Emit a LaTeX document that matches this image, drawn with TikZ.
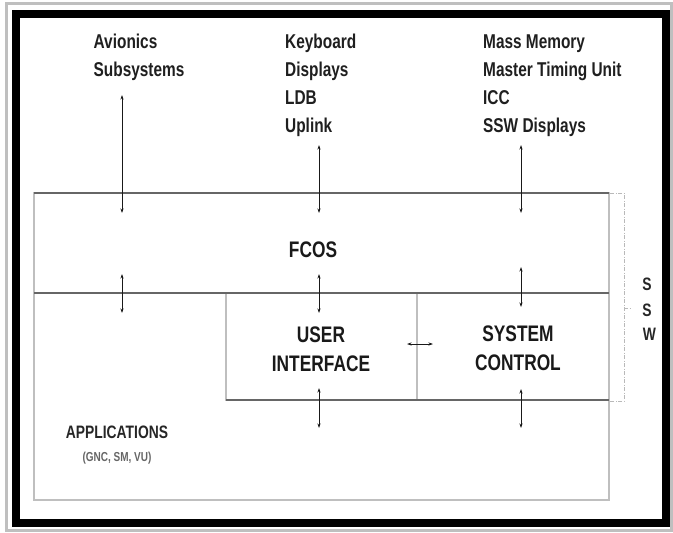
\documentclass[tikz,border=0pt]{standalone}
\usepackage{fontspec}
\setmainfont{Liberation Sans}[FakeStretch=0.77]
\usetikzlibrary{arrows.meta}
\begin{document}
\begin{tikzpicture}[x=1pt,y=-1pt,
  toplbl/.style={font=\bfseries\fontsize{20}{24}\selectfont, text=black!88, inner sep=0pt, anchor=base west},
  boxlbl/.style={font=\bfseries\fontsize{22.5}{29}\selectfont, align=center, inner sep=0pt, text=black!90},
  ssw/.style={font=\bfseries\fontsize{18}{20}\selectfont, inner sep=0pt, text=black!85},
  area/.style={draw=gray!50, line width=1.2pt, inner sep=0pt, outer sep=0pt},
  darkline/.style={draw=black!60, line width=2pt},
  tip/.tip={Stealth[length=4.5pt,width=3pt]},
  arr/.style={tip-tip, line width=0.8pt, black!90},
  bracket/.style={draw=gray!55, line width=0.8pt, dash pattern=on 4pt off 1.5pt on 1pt off 1.5pt}
]
\useasboundingbox (0,0) rectangle (673,533);
% frames
\draw[gray!50, line width=3pt] (6,3) rectangle (671,530);
\draw[black, line width=8pt] (16,14) rectangle (666,523);

% areas
\node[area, minimum width=575pt, minimum height=307pt] (apps) at (321.5,346.5) {};
\node[area, minimum width=575pt, minimum height=100pt] (fcos) at (321.5,243) {};
\node[area, minimum width=191pt, minimum height=107pt] (ui) at (321.5,346.5) {};
\node[area, minimum width=192pt, minimum height=107pt] (sc) at (513,346.5) {};
\draw[darkline] (fcos.north west) -- (fcos.north east);
\draw[darkline] (fcos.south west) -- (fcos.south east);
\draw[darkline] (ui.south west) -- (sc.south east);

% labels inside
\node[boxlbl] (fcoslbl) at (313,249.5) {FCOS};
\node[boxlbl] (uilbl) at (321,349) {USER\\INTERFACE};
\node[boxlbl] (sclbl) at (518,348.5) {SYSTEM\\CONTROL};
\node[font=\bfseries\fontsize{18}{20}\selectfont, inner sep=0pt, text=black!85] (appslbl) at (117,432.5) {APPLICATIONS};
\node[font=\bfseries\fontsize{13}{15}\selectfont, inner sep=0pt, text=black!60] (appssub) at (117,458) {(GNC, SM, VU)};

% top labels
\node[toplbl] (av1) at (93.5,48) {Avionics};
\node[toplbl] (av2) at (93.5,76) {Subsystems};
\node[toplbl] (kb1) at (285,48) {Keyboard};
\node[toplbl] (kb2) at (285,76) {Displays};
\node[toplbl] (kb3) at (285,104) {LDB};
\node[toplbl] (kb4) at (285,132) {Uplink};
\node[toplbl] (mm1) at (483,48) {Mass Memory};
\node[toplbl] (mm2) at (483,76) {Master Timing Unit};
\node[toplbl] (mm3) at (483,104) {ICC};
\node[toplbl] (mm4) at (483,132) {SSW Displays};

% SSW bracket
\coordinate (bt) at (610,193);
\coordinate (btc) at (624,193);
\coordinate (bbc) at (624,401);
\coordinate (bb) at (610,401);
\coordinate (bm) at (624,308);
\coordinate (bmt) at (632,308);
\draw[bracket] (bt) -- (btc) -- (bbc) -- (bb);
\draw[bracket] (bm) -- (bmt);
\node[ssw] (s1) at (647,284) {S};
\node[ssw] (s2) at (647,310) {S};
\node[ssw] (s3) at (649.5,334.5) {W};

% arrow end points
\coordinate (a1t) at (122,95);   \coordinate (a1b) at (122,213);
\coordinate (a2t) at (319,145);  \coordinate (a2b) at (319,213);
\coordinate (a3t) at (521,145);  \coordinate (a3b) at (521,213);
\coordinate (a4t) at (122,274);  \coordinate (a4b) at (122,313);
\coordinate (a5t) at (319,274);  \coordinate (a5b) at (319,313);
\coordinate (a6t) at (521,267);  \coordinate (a6b) at (521,307);
\coordinate (a7t) at (319,388);  \coordinate (a7b) at (319,428);
\coordinate (a8t) at (521,389);  \coordinate (a8b) at (521,428);
\coordinate (hl) at (407,344);   \coordinate (hr) at (433,344);
\foreach \n in {1,...,8} {\draw[arr] (a\n t) -- (a\n b);}
\draw[arr] (hl) -- (hr);
\end{tikzpicture}
\end{document}
